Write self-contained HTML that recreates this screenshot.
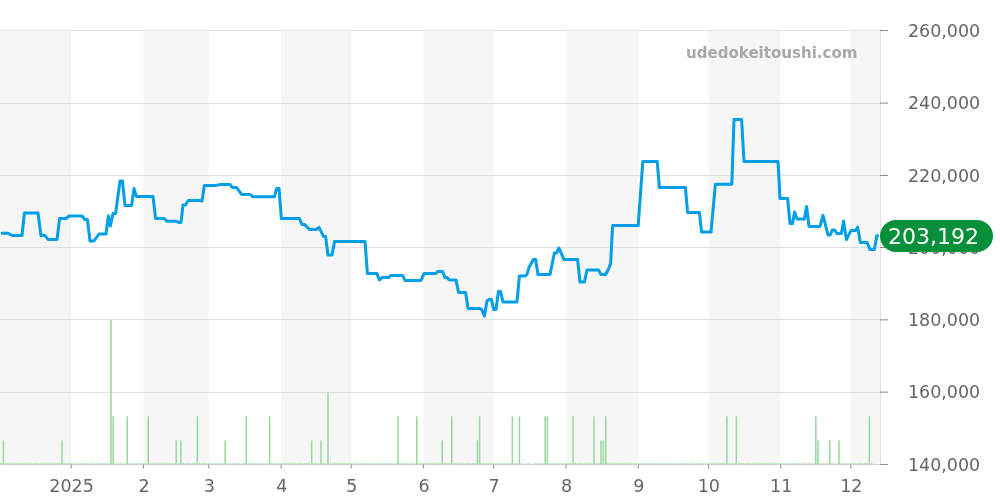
<!DOCTYPE html>
<html lang="ja"><head><meta charset="utf-8"><title>chart</title>
<style>html,body{margin:0;padding:0;background:#fff;}body{width:1000px;height:500px;overflow:hidden;}svg{display:block;}text{font-family:"DejaVu Sans","Liberation Sans",sans-serif;}</style></head><body>
<svg width="1000" height="500" viewBox="0 0 1000 500">
<rect width="1000" height="500" fill="#ffffff"/>
<g fill="#f6f6f6">
<rect x="0" y="30.5" width="71.1" height="434.0"/>
<rect x="143.47" y="30.5" width="65.4" height="434.0"/>
<rect x="281.2" y="30.5" width="70.0" height="434.0"/>
<rect x="423.59" y="30.5" width="70.0" height="434.0"/>
<rect x="565.99" y="30.5" width="72.4" height="434.0"/>
<rect x="708.39" y="30.5" width="72.4" height="434.0"/>
<rect x="850.79" y="30.5" width="29.7" height="434.0"/>
</g>
<g stroke="#dfdfdf" stroke-width="1" fill="none">
<line x1="0" y1="30.5" x2="880.5" y2="30.5"/>
<line x1="0" y1="103.5" x2="880.5" y2="103.5"/>
<line x1="0" y1="175.5" x2="880.5" y2="175.5"/>
<line x1="0" y1="247.5" x2="880.5" y2="247.5"/>
<line x1="0" y1="319.5" x2="880.5" y2="319.5"/>
<line x1="0" y1="392.5" x2="880.5" y2="392.5"/>
<line x1="880.5" y1="30.5" x2="880.5" y2="464.5" stroke="#e2e2e2"/>
<line x1="0" y1="464.5" x2="880.5" y2="464.5" stroke="#cfcfcf"/>
</g>
<g stroke="#888888" stroke-width="1" fill="none">
<line x1="880" y1="30.55" x2="888" y2="30.55"/>
<line x1="880" y1="103.10" x2="888" y2="103.10"/>
<line x1="880" y1="175.45" x2="888" y2="175.45"/>
<line x1="880" y1="247.50" x2="888" y2="247.50"/>
<line x1="880" y1="319.83" x2="888" y2="319.83"/>
<line x1="880" y1="392.17" x2="888" y2="392.17"/>
<line x1="880" y1="464.45" x2="888" y2="464.45"/>
<line x1="71.1" y1="464.5" x2="71.1" y2="468.4"/>
<line x1="143.47" y1="464.5" x2="143.47" y2="468.4"/>
<line x1="208.83" y1="464.5" x2="208.83" y2="468.4"/>
<line x1="281.2" y1="464.5" x2="281.2" y2="468.4"/>
<line x1="351.23" y1="464.5" x2="351.23" y2="468.4"/>
<line x1="423.59" y1="464.5" x2="423.59" y2="468.4"/>
<line x1="493.63" y1="464.5" x2="493.63" y2="468.4"/>
<line x1="565.99" y1="464.5" x2="565.99" y2="468.4"/>
<line x1="638.36" y1="464.5" x2="638.36" y2="468.4"/>
<line x1="708.39" y1="464.5" x2="708.39" y2="468.4"/>
<line x1="780.76" y1="464.5" x2="780.76" y2="468.4"/>
<line x1="850.79" y1="464.5" x2="850.79" y2="468.4"/>
</g>
<line x1="0.3" y1="463.6" x2="523.0" y2="463.6" stroke="#9bdaa4" stroke-opacity="0.75" stroke-width="1.2" stroke-dasharray="1.6 0.7344"/>
<line x1="525.52" y1="463.6" x2="530.0" y2="463.6" stroke="#9bdaa4" stroke-opacity="0.75" stroke-width="1.2" stroke-dasharray="1.6 0.7344"/>
<line x1="532.52" y1="463.6" x2="872.5" y2="463.6" stroke="#9bdaa4" stroke-opacity="0.75" stroke-width="1.2" stroke-dasharray="1.6 0.7344"/>
<g fill="#9bdaa4">
<rect x="2.60" y="440.4" width="1.6" height="23.8"/>
<rect x="61.20" y="440.4" width="1.6" height="23.8"/>
<rect x="110.20" y="319.8" width="1.6" height="144.4"/>
<rect x="112.40" y="416.3" width="1.6" height="47.9"/>
<rect x="126.40" y="416.3" width="1.6" height="47.9"/>
<rect x="147.40" y="416.3" width="1.6" height="47.9"/>
<rect x="175.40" y="440.4" width="1.6" height="23.8"/>
<rect x="180.20" y="440.4" width="1.6" height="23.8"/>
<rect x="196.60" y="416.3" width="1.6" height="47.9"/>
<rect x="224.40" y="440.4" width="1.6" height="23.8"/>
<rect x="245.40" y="416.3" width="1.6" height="47.9"/>
<rect x="268.80" y="416.3" width="1.6" height="47.9"/>
<rect x="310.80" y="440.4" width="1.6" height="23.8"/>
<rect x="320.20" y="440.4" width="1.6" height="23.8"/>
<rect x="327.20" y="392.2" width="1.6" height="72.0"/>
<rect x="397.20" y="416.3" width="1.6" height="47.9"/>
<rect x="416.00" y="416.3" width="1.6" height="47.9"/>
<rect x="441.40" y="440.4" width="1.6" height="23.8"/>
<rect x="451.00" y="416.3" width="1.6" height="47.9"/>
<rect x="476.60" y="440.4" width="1.6" height="23.8"/>
<rect x="478.80" y="416.3" width="1.6" height="47.9"/>
<rect x="511.60" y="416.3" width="1.6" height="47.9"/>
<rect x="518.60" y="416.3" width="1.6" height="47.9"/>
<rect x="544.40" y="416.3" width="1.6" height="47.9"/>
<rect x="546.60" y="416.3" width="1.6" height="47.9"/>
<rect x="572.20" y="416.3" width="1.6" height="47.9"/>
<rect x="593.20" y="416.3" width="1.6" height="47.9"/>
<rect x="600.20" y="440.4" width="1.6" height="23.8"/>
<rect x="602.60" y="440.4" width="1.6" height="23.8"/>
<rect x="605.00" y="416.3" width="1.6" height="47.9"/>
<rect x="726.20" y="416.3" width="1.6" height="47.9"/>
<rect x="735.60" y="416.3" width="1.6" height="47.9"/>
<rect x="815.00" y="416.3" width="1.6" height="47.9"/>
<rect x="817.20" y="440.4" width="1.6" height="23.8"/>
<rect x="829.00" y="440.4" width="1.6" height="23.8"/>
<rect x="838.20" y="440.4" width="1.6" height="23.8"/>
<rect x="868.60" y="416.3" width="1.6" height="47.9"/>
</g>
<polyline points="1,233.3 8,233.3 12.4,235.5 22,235.6 24.4,213 38,213 41,235.6 45,235.6 48,239.4 57,239.4 59.6,218.6 66,218.6 69,216 82,216 85,219.6 87.4,219.6 90,241 94,241 99,234 106,234 108.4,216 110.4,226 113,213.6 115.6,213.6 120,181 122.4,181 125,205.6 131.6,205.6 134,188.6 136.6,196.6 153,196.6 155.6,218.4 164,218.4 167,221.2 176.2,221.2 178.6,222.4 181,222.4 183,205 185.6,205 188,200.6 200,200.6 202,201 204.4,185.4 216,185.4 220,184.6 230,184.6 232.4,187.4 236.4,187.4 241.6,194.4 250,194.4 253,196.8 274.4,196.8 276.6,188.6 279,188.6 281.4,218.6 299.4,218.6 302,224.4 304.4,224.4 309.4,229.4 316,229.4 319,227.4 323.6,236.6 325.6,236.6 328,255 332,255 334.6,241.4 365,241.4 367.4,273.6 377,273.6 379.4,280 382,277.6 388.6,277.6 391,275.4 402.6,275.4 405,280.4 421,280.4 424,273.6 435.6,273.6 438,271.4 442.4,271.4 445,277.6 447,277.6 449.4,280 456,280 458.6,292.4 465.6,292.4 468,308.4 480,308.4 482,310 484.4,316 487,301 489,299.4 491.4,299.4 493.6,309.4 496,309.4 498.4,291.6 500.6,291.6 503,302 517,302 519.4,276 525,276 527,274.4 529,267.4 533.4,259.6 535.6,259.6 538,274.4 550,274.4 554.4,253 556.6,253 559,248 564,259.6 577.6,259.6 580,282 584.4,282 587,270 598.6,270 601,274.6 605.6,274.6 608,270 610.6,263.6 612.6,225.6 638.2,225.6 642.8,161.4 657.2,161.4 659.4,187.6 685.4,187.6 687.6,212.6 699.4,212.6 701.6,232 711,232 715.4,184.2 731.8,184.2 734,119.4 741.6,119.4 744,161.4 778,161.4 780,198.6 787.6,198.6 790,223.6 792.4,223.6 794.6,212 797,219.1 804.4,219.1 806.6,206.4 809,226.4 820,226.4 823,215.4 828,235 830,235 832.4,230 834.6,230 837,233.6 841.4,233.6 843.6,221 846.4,239.6 851,230.4 855.6,230.4 857.6,227 860.4,242.4 867,242.4 870,249.4 874.4,249.4 876.8,235.7 878.8,235.7" fill="none" stroke="#009fe8" stroke-width="3" stroke-linejoin="round" stroke-linecap="butt"/>
<text x="686" y="58" font-size="15.05" font-weight="bold" fill="#a8a8a8">udedokeitoushi.com</text>
<g font-size="17.5" fill="#666666">
<text x="907.9" y="36.85">260,000</text>
<text x="907.9" y="109.40">240,000</text>
<text x="907.9" y="181.75">220,000</text>
<text x="907.9" y="253.80">200,000</text>
<text x="907.9" y="326.13">180,000</text>
<text x="907.9" y="398.47">160,000</text>
<text x="907.9" y="470.75">140,000</text>
<text x="71.60" y="492" text-anchor="middle">2025</text>
<text x="143.97" y="492" text-anchor="middle">2</text>
<text x="209.33" y="492" text-anchor="middle">3</text>
<text x="281.70" y="492" text-anchor="middle">4</text>
<text x="351.73" y="492" text-anchor="middle">5</text>
<text x="424.09" y="492" text-anchor="middle">6</text>
<text x="494.13" y="492" text-anchor="middle">7</text>
<text x="566.49" y="492" text-anchor="middle">8</text>
<text x="638.86" y="492" text-anchor="middle">9</text>
<text x="708.89" y="492" text-anchor="middle">10</text>
<text x="781.26" y="492" text-anchor="middle">11</text>
<text x="851.29" y="492" text-anchor="middle">12</text>
</g>
<rect x="880" y="220" width="113" height="32" rx="16" ry="16" fill="#07903b"/>
<text x="933.6" y="243.7" font-size="22" fill="#ffffff" text-anchor="middle">203,192</text>
</svg></body></html>
